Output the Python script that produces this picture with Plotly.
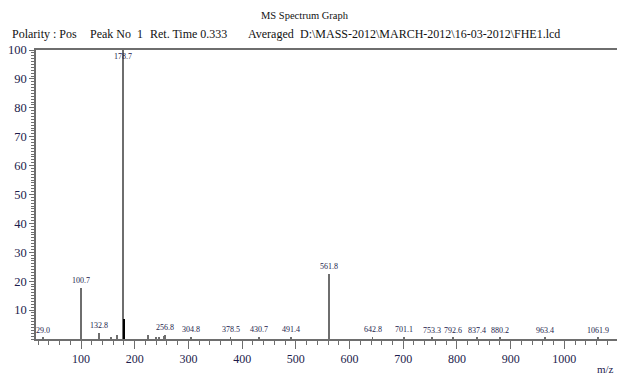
import plotly.graph_objects as go

# labelled peaks (m/z, relative intensity %)
peak_mz = [29.0, 100.7, 132.8, 178.7, 256.8, 304.8, 378.5, 430.7, 491.4, 561.8,
           642.8, 701.1, 753.3, 792.6, 837.4, 880.2, 963.4, 1061.9]
peak_int = [0.5, 17.5, 2.0, 100.0, 1.5, 0.6, 0.6, 0.6, 0.6, 22.5,
            0.6, 0.6, 0.5, 0.5, 0.5, 0.5, 0.5, 0.5]
# unlabelled minor peaks
minor_mz = [156.0, 167.0, 225.0, 240.0, 245.0, 254.0]
minor_int = [0.6, 1.5, 1.3, 0.8, 0.8, 1.2]
# strong unlabelled peak drawn in black
black_mz = [180.5]
black_int = [7.0]

x_ticks = [100, 200, 300, 400, 500, 600, 700, 800, 900, 1000]
y_ticks = [10, 20, 30, 40, 50, 60, 70, 80, 90, 100]

title_text = "MS Spectrum Graph"
header_parts = ["Polarity : Pos", "Peak No&#160;&#160;1", "Ret. Time 0.333", "Averaged",
                "D:\\MASS-2012\\MARCH-2012\\16-03-2012\\FHE1.lcd"]
header_px = [10, 88, 148, 246, 298]

serif = "Liberation Serif"
navy = "#1c1c4c"
gray = "#6e6e6e"

fig = go.Figure()
fig.add_trace(go.Bar(x=peak_mz + minor_mz, y=peak_int + minor_int, width=1.5,
                     marker=dict(color=gray, line=dict(width=0)), showlegend=False))
fig.add_trace(go.Bar(x=black_mz, y=black_int, width=3.5,
                     marker=dict(color="#000000", line=dict(width=0)), showlegend=False))

for mz, val in zip(peak_mz, peak_int):
    top = val >= 99
    fig.add_annotation(x=mz, y=val, text=f"{mz:.1f}", showarrow=False,
                       xanchor="center", yanchor="top" if top else "bottom",
                       yshift=0 if top else 1,
                       font=dict(family=serif, size=8, color=navy))

fig.add_annotation(xref="paper", yref="paper", x=0, xshift=305 - 36, y=1, yshift=35,
                   text=title_text, showarrow=False, xanchor="center", yanchor="middle",
                   font=dict(family=serif, size=10.5, color="#111111"))
for txt, px in zip(header_parts, header_px):
    fig.add_annotation(xref="paper", yref="paper", x=0, xshift=px - 36, y=1, yshift=16,
                       text=txt, showarrow=False, xanchor="left", yanchor="middle",
                       font=dict(family=serif, size=12, color="#111111"))
fig.add_annotation(xref="paper", yref="paper", x=1, y=0, yshift=-30, xshift=-1, text="m/z",
                   showarrow=False, xanchor="right", yanchor="middle",
                   font=dict(family=serif, size=11, color=navy))

fig.update_layout(
    width=617, height=376,
    margin=dict(l=36, r=0, t=50, b=37),
    paper_bgcolor="white", plot_bgcolor="white",
    bargap=0,
    xaxis=dict(range=[16.2, 1098], tickvals=x_ticks, ticks="outside", ticklen=8,
               tickcolor=gray, showline=True, linecolor=gray, linewidth=1.5, mirror=True,
               showgrid=False, zeroline=False, automargin=False,
               tickfont=dict(family=serif, size=12, color=navy),
               minor=dict(dtick=20, tick0=0, ticks="outside", ticklen=4, tickcolor=gray)),
    yaxis=dict(range=[0, 100], tickvals=y_ticks, ticks="outside", ticklen=5,
               tickcolor=gray, showline=True, linecolor=gray, linewidth=1.5, mirror=False,
               showgrid=False, zeroline=False, automargin=False,
               tickfont=dict(family=serif, size=12.5, color=navy),
               minor=dict(dtick=1, tick0=0, ticks="outside", ticklen=3, tickcolor=gray)),
)

fig.write_html("out.html", config={"displayModeBar": False},
               post_script="document.body.style.margin='0';document.body.style.padding='0';")
